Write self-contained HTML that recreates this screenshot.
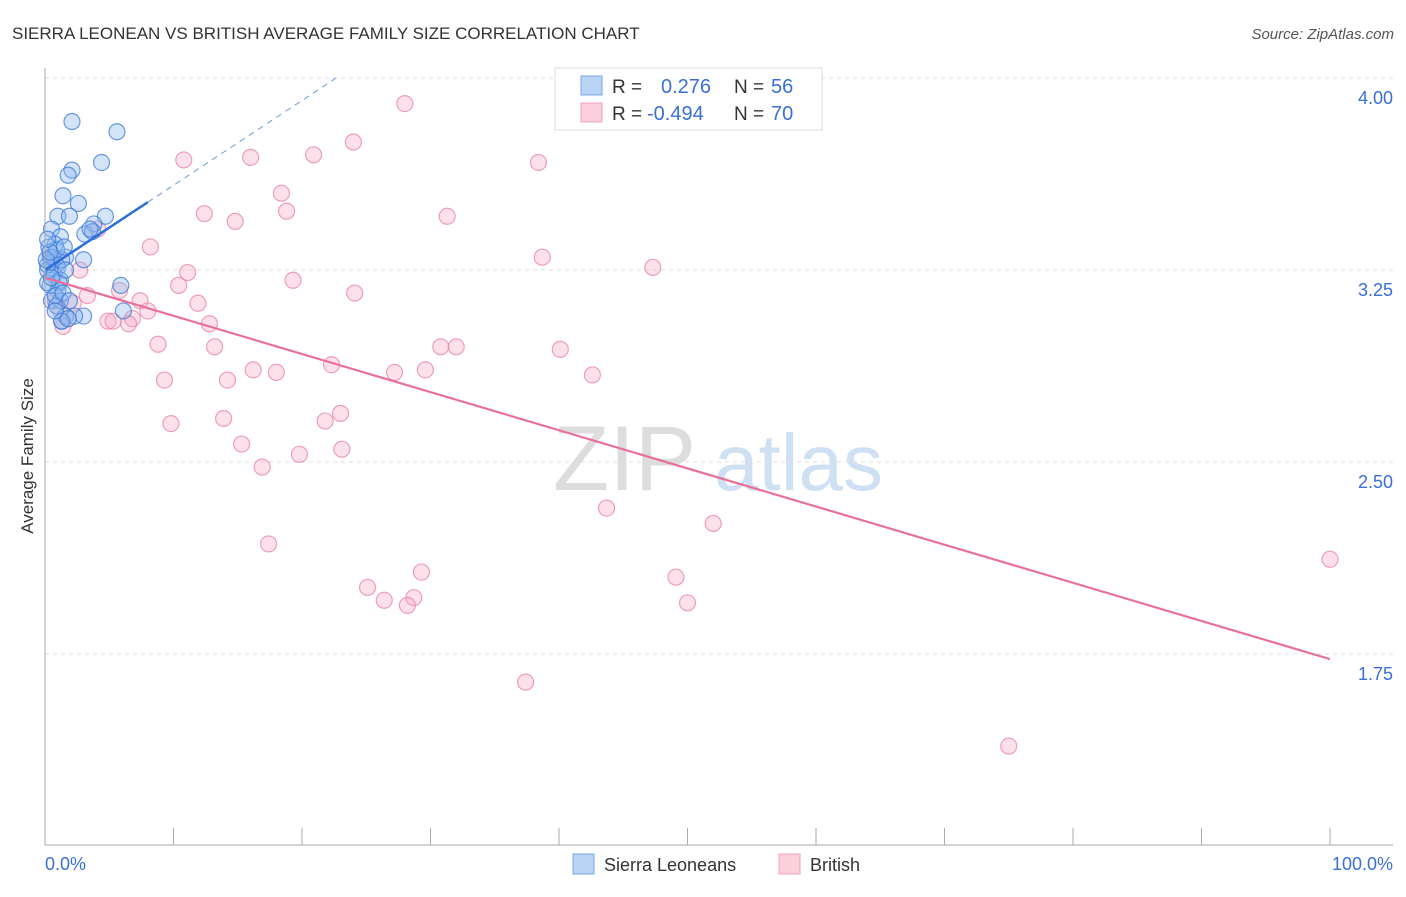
<!DOCTYPE html>
<html><head><meta charset="utf-8"><style>
body{margin:0;background:#fff;font-family:"Liberation Sans",sans-serif;}
svg text{font-family:"Liberation Sans",sans-serif;}
</style></head><body>
<svg id="c" width="1406" height="892" xmlns="http://www.w3.org/2000/svg">
<text x="12" y="39" font-size="17" fill="#333">SIERRA LEONEAN VS BRITISH AVERAGE FAMILY SIZE CORRELATION CHART</text>
<text x="1394" y="39" font-size="15" fill="#555" text-anchor="end" font-style="italic">Source: ZipAtlas.com</text>
<text x="33" y="456" font-size="17" fill="#333" text-anchor="middle" transform="rotate(-90 33 456)">Average Family Size</text>
<g><text x="553" y="490" font-size="92" fill="#ddd" font-family="Liberation Serif,serif">ZIP</text><text x="714" y="490" font-size="80" fill="#cfe0f3">atlas</text></g>
<g id="grid"></g><g id="pts"></g><g id="trend"></g>
<line x1="45" y1="68" x2="45" y2="845" stroke="#aaa"/>
<line x1="45" y1="845" x2="1393" y2="845" stroke="#aaa"/>
<text x="45" y="870" font-size="18" fill="#3a6fd8">0.0%</text>
<text x="1393" y="870" font-size="18" fill="#3a6fd8" text-anchor="end">100.0%</text>
<g>
<rect x="555" y="68" width="267" height="62" fill="#fff" stroke="#ddd"/>
<rect x="581" y="76" width="21" height="19" fill="#b9d3f5" stroke="#7aa6e6"/>
<rect x="581" y="103" width="21" height="19" fill="#fbcfdc" stroke="#eea6bd"/>
<text x="612" y="93" font-size="19" fill="#333">R =</text><text x="661" y="93" font-size="20" fill="#3a6fd8">0.276</text>
<text x="734" y="93" font-size="19" fill="#333">N =</text><text x="771" y="93" font-size="20" fill="#3a6fd8">56</text>
<text x="612" y="120" font-size="19" fill="#333">R =</text><text x="647" y="120" font-size="20" fill="#3a6fd8">-0.494</text>
<text x="734" y="120" font-size="19" fill="#333">N =</text><text x="771" y="120" font-size="20" fill="#3a6fd8">70</text>
</g>
<g><rect x="573" y="854" width="21" height="20" fill="#b9d3f5" stroke="#7aa6e6"/><text x="604" y="871" font-size="18" fill="#333">Sierra Leoneans</text></g>
<g><rect x="779" y="854" width="21" height="20" fill="#fbcfdc" stroke="#eea6bd"/><text x="810" y="871" font-size="18" fill="#333">British</text></g>
</svg>
<script>
const yTicks=[4.00,3.25,2.50,1.75];
const xTickCount=11;
const blueX=[2.1,5.6,4.4,2.1,1.8,1.4,2.6,4.7,1.0,1.9,3.8,0.5,3.1,3.7,1.2,0.8,0.3,1.6,3.0,0.4,0.5,0.9,0.2,1.0,1.3,0.7,1.2,5.9,0.4,1.0,0.5,1.2,0.9,1.6,1.3,3.0,2.3,6.1,0.2,0.6,0.9,0.1,0.4,1.5,1.1,0.2,0.8,1.4,1.9,3.5,0.2,1.6,0.5,1.3,1.8,0.8];
const blueY=[3.83,3.79,3.67,3.64,3.62,3.54,3.51,3.46,3.46,3.46,3.43,3.41,3.39,3.40,3.38,3.35,3.34,3.30,3.29,3.30,3.28,3.27,3.25,3.26,3.29,3.23,3.21,3.19,3.19,3.17,3.13,3.13,3.11,3.07,3.05,3.07,3.07,3.09,3.27,3.30,3.33,3.29,3.32,3.34,3.20,3.20,3.15,3.16,3.13,3.41,3.37,3.25,3.22,3.05,3.06,3.09];
const pinkX=[28.0,24.0,20.9,16.0,10.8,38.4,18.4,12.4,18.8,31.3,14.8,4.1,8.2,38.7,47.3,11.1,19.3,10.4,24.1,5.8,3.3,7.4,11.9,8.0,2.2,0.8,1.2,6.8,4.9,5.3,6.5,12.8,1.4,1.8,8.8,13.2,30.8,32.0,40.1,22.3,16.2,18.0,29.6,27.2,42.6,9.3,14.2,23.0,21.8,13.9,9.8,15.3,23.1,19.8,16.9,43.7,52.0,17.4,100.0,29.3,49.1,25.1,26.4,28.7,50.0,28.2,37.4,75.0,0.5,2.7];
const pinkY=[3.90,3.75,3.70,3.69,3.68,3.67,3.55,3.47,3.48,3.46,3.44,3.41,3.34,3.30,3.26,3.24,3.21,3.19,3.16,3.17,3.15,3.13,3.12,3.09,3.12,3.13,3.09,3.06,3.05,3.05,3.04,3.04,3.03,3.06,2.96,2.95,2.95,2.95,2.94,2.88,2.86,2.85,2.86,2.85,2.84,2.82,2.82,2.69,2.66,2.67,2.65,2.57,2.55,2.53,2.48,2.32,2.26,2.18,2.12,2.07,2.05,2.01,1.96,1.97,1.95,1.94,1.64,1.39,3.29,3.25];
const blueTrend=[3.25,0.0331];
const pinkTrend=[3.22,-0.0149];
const NS="http://www.w3.org/2000/svg";
const X=v=>45+v*12.85, Y=v=>78+(4-v)*256;
function mk(t,a,p){const e=document.createElementNS(NS,t);for(const k in a)e.setAttribute(k,a[k]);document.getElementById(p).appendChild(e);return e;}
yTicks.forEach(t=>{
 const l=mk('line',{x1:45,x2:1393,y1:Y(t),y2:Y(t),stroke:'#ddd','stroke-dasharray':'4,4'},'grid');
 
 
 const s=mk('text',{x:1393,y:Y(t)+26,'font-size':18,fill:'#3a6fd8','text-anchor':'end'},'grid');
 s.textContent=t.toFixed(2);
 
 
});
for(let i=0;i<xTickCount;i++){
 const tk=mk('line',{x1:X(i*10),x2:X(i*10),y1:828,y2:845,stroke:'#aaa'},'grid');
 
 
}
pinkX.forEach((x,i)=>{
 const c=mk('circle',{cx:X(x),cy:Y(pinkY[i]),r:8,fill:'rgba(247,168,194,0.35)',stroke:'rgba(232,130,165,0.75)','stroke-width':1.2},'pts');
 
 
});
blueX.forEach((x,i)=>{
 const c=mk('circle',{cx:X(x),cy:Y(blueY[i]),r:8,fill:'rgba(140,185,240,0.38)',stroke:'rgba(60,120,215,0.75)','stroke-width':1.2},'pts');
 
 
});
const bEnd=(4-blueTrend[0])/blueTrend[1];
const b1=mk('line',{x1:X(0),y1:Y(blueTrend[0]),x2:X(8),y2:Y(blueTrend[0]+8*blueTrend[1]),stroke:'#2d6fd6','stroke-width':2.5},'trend');


const b2=mk('line',{x1:X(8),y1:Y(blueTrend[0]+8*blueTrend[1]),x2:X(bEnd),y2:Y(4),stroke:'#6d9be0','stroke-width':1,'stroke-dasharray':'6,5'},'trend');


const p1=mk('line',{x1:X(0),y1:Y(pinkTrend[0]),x2:X(100),y2:Y(pinkTrend[0]+100*pinkTrend[1]),stroke:'#e8709a','stroke-width':2.2},'trend');


</script>
</body></html>
